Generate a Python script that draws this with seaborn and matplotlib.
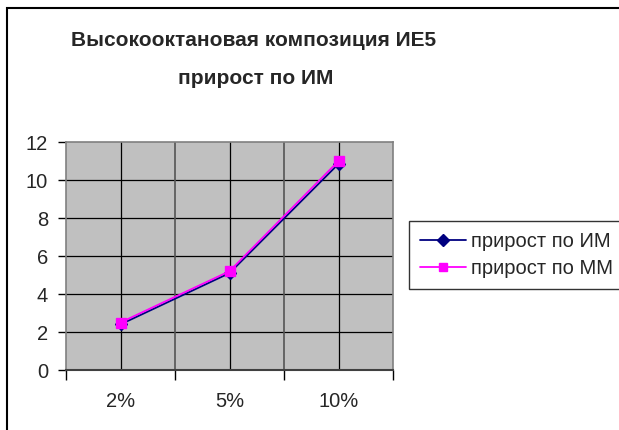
import matplotlib
matplotlib.use("Agg")
import matplotlib.pyplot as plt
import pandas as pd
import seaborn as sns
from matplotlib.lines import Line2D
from matplotlib.patches import Rectangle

categories = ["2%", "5%", "10%"]
gain_im = [2.4, 5.1, 10.85]
gain_mm = [2.5, 5.2, 11.0]
series_names = ["прирост по ИМ", "прирост по ММ"]
series_colors = ["#000080", "#FF00FF"]
series_markers = ["D", "s"]
y_ticks = [0, 2, 4, 6, 8, 10, 12]
title = "Высокооктановая композиция ИЕ5\nприрост по ИМ"

df = pd.DataFrame({
    "category": categories * 2,
    "value": gain_im + gain_mm,
    "series": [series_names[0]] * 3 + [series_names[1]] * 3,
})

sns.set_theme(style="white")
plt.rcParams["font.family"] = ["Liberation Sans", "DejaVu Sans"]

fig = plt.figure(figsize=(6.19, 4.30), dpi=100)
ax = fig.add_axes([66 / 619, 1 - 370 / 430, 327 / 619, 228 / 430])
ax.set_facecolor("#C0C0C0")

sns.pointplot(
    data=df, x="category", y="value", hue="series", order=categories,
    hue_order=series_names, palette=series_colors, markers=series_markers,
    linestyles="-", dodge=False, ax=ax, legend=False,
    markersize=6.5, linewidth=1.3,
)

ax.set_xlim(-0.5, len(categories) - 0.5)
ax.set_ylim(y_ticks[0], y_ticks[-1])
ax.set_yticks(y_ticks)
ax.set_xticks([i - 0.5 for i in range(len(categories) + 1)])
ax.set_xticklabels([])
ax.set_xticks(range(len(categories)), minor=True)
ax.set_xticklabels(categories, minor=True)
ax.tick_params(axis="x", which="major", direction="out", length=7, width=1, color="black", bottom=True)
ax.tick_params(axis="x", which="minor", length=0, pad=16, labelsize=14.5)
ax.tick_params(axis="y", direction="out", length=6, width=1, color="black", left=True, labelsize=14.5, pad=7)

ax.grid(False)
for y in y_ticks[1:-1]:
    ax.axhline(y, color="black", lw=0.9, zorder=0.5)
for x in range(len(categories)):
    ax.axvline(x, color="black", lw=0.9, zorder=0.5)
for x in [i + 0.5 for i in range(len(categories) - 1)]:
    ax.axvline(x, color="#555555", lw=1.2, zorder=0.5)
ax.set_xlabel("")
ax.set_ylabel("")
for name, spine in ax.spines.items():
    spine.set_visible(True)
    spine.set_color("#808080")
    spine.set_linewidth(1.2)
ax.spines["bottom"].set_color("#404040")
ax.spines["bottom"].set_linewidth(1.5)

handles = [
    Line2D([], [], color=c, marker=m, markersize=6, lw=1.3)
    for c, m in zip(series_colors, series_markers)
]
fig.legend(
    handles, series_names, loc="upper left", bbox_to_anchor=(409 / 619, 1 - 221 / 430),
    borderaxespad=0, frameon=True, fancybox=False, edgecolor="black", fontsize=14.5,
    handlelength=2.3, handletextpad=0.25, borderpad=0.55, labelspacing=0.4,
)

title_lines = title.split("\n")
fig.text(254 / 619, 1 - 41 / 430, title_lines[0], ha="center", va="center",
         fontsize=15, fontweight="bold")
fig.text(256 / 619, 1 - 78 / 430, title_lines[1], ha="center", va="center",
         fontsize=15, fontweight="bold")

fig.patches.append(Rectangle((7 / 619, -10 / 430), 640 / 619, 432 / 430,
                             transform=fig.transFigure, fill=False,
                             edgecolor="black", lw=1.5))

fig.savefig("out.png", dpi=100)
